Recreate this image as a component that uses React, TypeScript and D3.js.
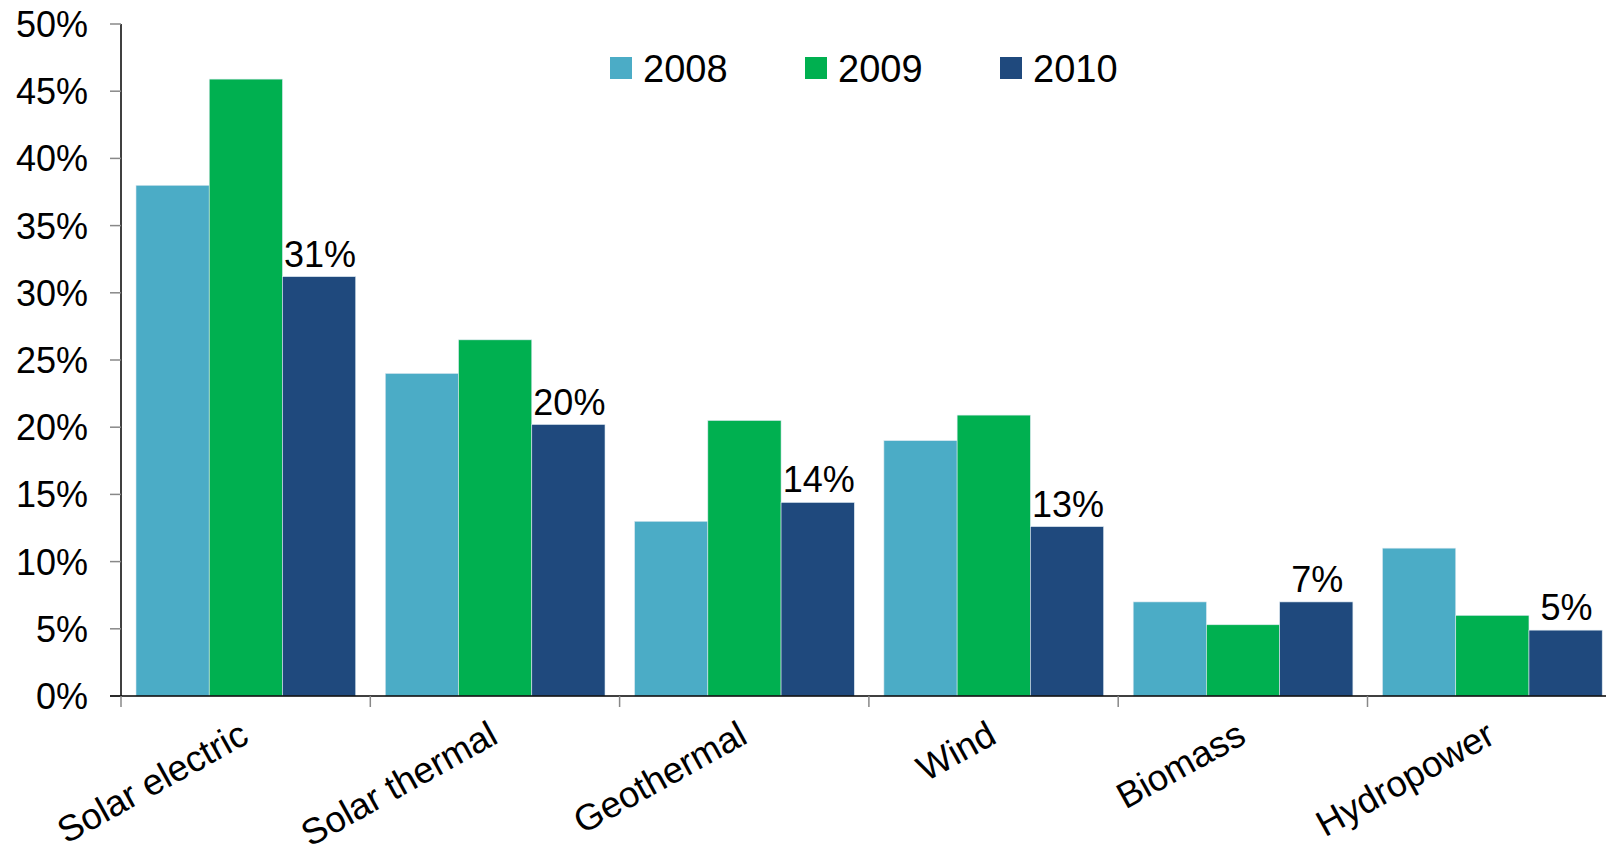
import React from "react";
import * as d3 from "d3";

const categories = ["Solar electric", "Solar thermal", "Geothermal", "Wind", "Biomass", "Hydropower"];
const years = ["2008", "2009", "2010"];
const v2008 = [38.0, 24.0, 13.0, 19.0, 7.0, 11.0];
const v2009 = [45.9, 26.5, 20.5, 20.9, 5.3, 6.0];
const v2010 = [31.2, 20.2, 14.4, 12.6, 7.0, 4.9];
const yTicks = [0, 5, 10, 15, 20, 25, 30, 35, 40, 45, 50];
const colors = ["#4BACC6", "#00B050", "#1F497D"];

const W = 1606;
const H = 853;
const FONT = "'Liberation Sans', Arial, Helvetica, sans-serif";

export default function App() {
  const series = [v2008, v2009, v2010];
  const left = 121;
  const bandW = 249.3;
  const y = d3.scaleLinear().domain([0, 50]).range([696, 24]);
  const x = d3
    .scaleBand<string>()
    .domain(categories)
    .range([left, left + bandW * categories.length])
    .paddingInner(0)
    .paddingOuter(0);
  const xs = d3.scaleBand<string>().domain(years).range([15, bandW - 14.6]);
  const fmt = (v: number) => `${Math.round(v)}%`;
  const bottom = y(0);
  const boundaries = d3.range(categories.length).map((i) => left + bandW * i);

  return (
    <div style={{ position: "absolute", left: 0, top: 0, width: W, height: H, overflow: "hidden", background: "#fff" }}>
      <svg width={W} height={H} style={{ display: "block" }} fontFamily={FONT}>
        {/* bars */}
        {categories.map((c, i) => (
          <g key={c} transform={`translate(${x(c)},0)`}>
            {series.map((s, j) => (
              <rect
                key={j}
                x={xs(years[j])}
                y={y(s[i])}
                width={xs.bandwidth()}
                height={bottom - y(s[i])}
                fill={colors[j]}
                stroke="#dbe8f0"
                strokeWidth={0.6}
              />
            ))}
            <text
              x={(xs(years[2]) as number) + xs.bandwidth() / 2 + 1}
              y={y(v2010[i]) - 10}
              textAnchor="middle"
              fontSize={36}
              fill="#000"
            >
              {fmt(v2010[i])}
            </text>
          </g>
        ))}

        {/* y axis */}
        <line x1={left} x2={left} y1={y(50)} y2={bottom} stroke="#000" strokeWidth={1.5} />
        {yTicks.map((t) => (
          <g key={t}>
            <line x1={110} x2={left} y1={y(t)} y2={y(t)} stroke="#888" strokeWidth={1.5} />
            <text x={88} y={y(t)} dy="0.36em" textAnchor="end" fontSize={36} fill="#000">
              {fmt(t)}
            </text>
          </g>
        ))}

        {/* x axis */}
        <line x1={110} x2={W} y1={bottom} y2={bottom} stroke="#000" strokeWidth={1.5} />
        {boundaries.map((b, i) => (
          <line key={i} x1={b} x2={b} y1={bottom} y2={bottom + 11} stroke="#888" strokeWidth={1.5} />
        ))}
        {categories.map((c) => {
          const cx = (x(c) as number) + x.bandwidth() / 2 + 5;
          const cy = 742;
          return (
            <text
              key={c}
              transform={`translate(${cx},${cy}) rotate(-29)`}
              textAnchor="end"
              fontSize={36.5}
              fill="#000"
            >
              {c}
            </text>
          );
        })}

        {/* legend */}
        {years.map((yr, j) => {
          const lx = 610 + j * 195;
          return (
            <g key={yr}>
              <rect x={lx} y={57} width={22} height={22} fill={colors[j]} />
              <text x={lx + 33} y={82} fontSize={38} fill="#000">
                {yr}
              </text>
            </g>
          );
        })}
      </svg>
    </div>
  );
}
